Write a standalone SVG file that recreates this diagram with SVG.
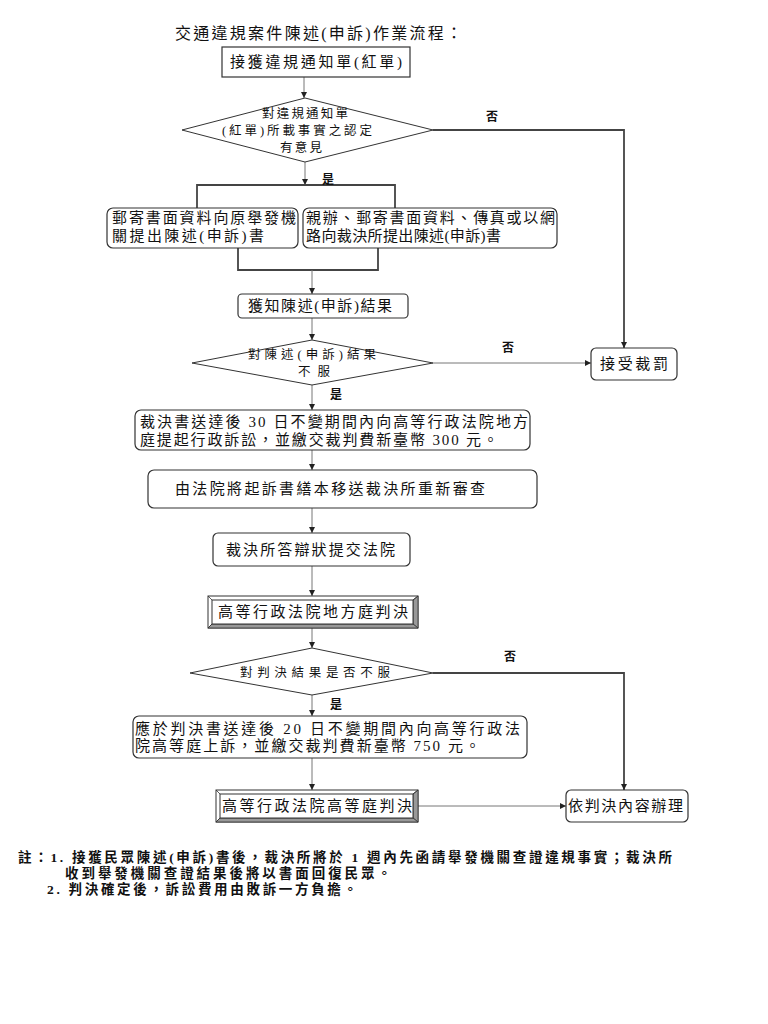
<svg xmlns="http://www.w3.org/2000/svg" width="768" height="1024" viewBox="0 0 768 1024">
<style>
text{font-family:"Liberation Serif","Noto Sans CJK TC",serif;fill:#111;}
.t{font-size:15px;}
.s{font-size:12.5px;}
.lb{font-size:12px;font-weight:bold;}
.box{fill:#fff;stroke:#333;stroke-width:1.2;}
.dia{fill:#fff;stroke:#333;stroke-width:1;}
.c{fill:none;stroke:#777;stroke-width:1;}
.cd{fill:none;stroke:#444;stroke-width:1.8;}
.bev{fill:#fff;stroke:#333;stroke-width:1;}
.bevs{fill:#999;stroke:#333;stroke-width:0.8;}
.note{font-size:13.5px;font-weight:bold;}
</style>
<defs>
<marker id="ah" markerWidth="7" markerHeight="7" refX="6" refY="3.5" orient="auto" markerUnits="userSpaceOnUse">
<path d="M0,0.5 L6,3.5 L0,6.5 Z" fill="#222"/>
</marker>
</defs>
<rect width="768" height="1024" fill="#fff"/>
<text id="title" x="175" y="39" style="font-size:16px" textLength="287" lengthAdjust="spacing">交通違規案件陳述(申訴)作業流程：</text>

<g id="connectors">
<line class="c" x1="304" y1="77" x2="304" y2="98" marker-end="url(#ah)"/>
<line class="c" x1="305" y1="162" x2="305" y2="185" marker-end="url(#ah)"/>
<polyline class="cd" points="197,209 197,185 395,185 395,209"/>
<polyline class="cd" points="238,248 238,270 378,270 378,248"/>
<line class="c" x1="312" y1="270" x2="312" y2="294" marker-end="url(#ah)"/>
<line class="c" x1="312" y1="318" x2="312" y2="340" marker-end="url(#ah)"/>
<line class="c" x1="433" y1="363" x2="591" y2="363" marker-end="url(#ah)"/>
<polyline class="cd" points="433,130 624,130 624,348" marker-end="url(#ah)"/>
<line class="c" x1="312" y1="385" x2="312" y2="410" marker-end="url(#ah)"/>
<line class="c" x1="312" y1="450" x2="312" y2="470" marker-end="url(#ah)"/>
<line class="c" x1="312" y1="508" x2="312" y2="533" marker-end="url(#ah)"/>
<line class="c" x1="312" y1="566" x2="312" y2="596" marker-end="url(#ah)"/>
<line class="c" x1="312" y1="628" x2="312" y2="648" marker-end="url(#ah)"/>
<line class="c" x1="312" y1="695" x2="312" y2="716" marker-end="url(#ah)"/>
<line class="c" x1="312" y1="758" x2="312" y2="790" marker-end="url(#ah)"/>
<line class="c" x1="418" y1="806" x2="566" y2="806" marker-end="url(#ah)"/>
<polyline class="cd" points="433,673 624,673 624,790" marker-end="url(#ah)"/>
<text class="lb" x="486" y="121">否</text>
<text class="lb" x="322" y="184">是</text>
<text class="lb" x="502" y="352">否</text>
<text class="lb" x="330" y="399">是</text>
<text class="lb" x="504" y="661">否</text>
<text class="lb" x="330" y="709">是</text>
</g>

<g id="n1">
<rect class="box" x="222" y="47" width="188" height="30"/>
<text class="t" x="230" y="67" textLength="172" lengthAdjust="spacing">接獲違規通知單(紅單)</text>
</g>

<g id="d1">
<polygon class="dia" points="182,130 305,98 433,130 305,162"/>
<text class="s" x="262" y="118" textLength="86" lengthAdjust="spacing">對違規通知單</text>
<text class="s" x="222" y="135" textLength="150" lengthAdjust="spacing">(紅單)所載事實之認定</text>
<text class="s" x="280" y="152" textLength="42" lengthAdjust="spacing">有意見</text>
</g>

<g id="n2">
<rect class="box" x="107" y="208" width="191" height="40" rx="6"/>
<text class="t" x="112" y="223" textLength="184" lengthAdjust="spacing">郵寄書面資料向原舉發機</text>
<text class="t" x="112" y="241" textLength="152" lengthAdjust="spacing">關提出陳述(申訴)書</text>
</g>

<g id="n3">
<rect class="box" x="303" y="208" width="254" height="40" rx="6"/>
<text class="t" x="306" y="223" textLength="249" lengthAdjust="spacing">親辦、郵寄書面資料、傳真或以網</text>
<text class="t" x="306" y="241" textLength="195" lengthAdjust="spacing">路向裁決所提出陳述(申訴)書</text>
</g>

<g id="n4">
<rect class="box" x="238" y="294" width="170" height="24" rx="4"/>
<text class="t" x="248" y="311" textLength="144" lengthAdjust="spacing">獲知陳述(申訴)結果</text>
</g>

<g id="d2">
<polygon class="dia" points="192,363 312,340 433,363 312,385"/>
<text class="s" x="248" y="359" textLength="128" lengthAdjust="spacing">對陳述(申訴)結果</text>
<text class="s" x="298" y="376" textLength="32" lengthAdjust="spacing">不服</text>
</g>

<g id="n5">
<rect class="box" x="591" y="348" width="86" height="32" rx="5"/>
<text class="t" x="600" y="369" textLength="68" lengthAdjust="spacing">接受裁罰</text>
</g>

<g id="n6">
<rect class="box" x="135" y="410" width="395" height="40" rx="6"/>
<text class="t" x="140" y="427" textLength="388" lengthAdjust="spacing">裁決書送達後 30 日不變期間內向高等行政法院地方</text>
<text class="t" x="140" y="445" textLength="358" lengthAdjust="spacing">庭提起行政訴訟，並繳交裁判費新臺幣 300 元。</text>
</g>

<g id="n7">
<rect class="box" x="148" y="470" width="389" height="38" rx="6"/>
<text class="t" x="175" y="494" textLength="310" lengthAdjust="spacing">由法院將起訴書繕本移送裁決所重新審查</text>
</g>

<g id="n8">
<rect class="box" x="213" y="533" width="197" height="33" rx="5"/>
<text class="t" x="226" y="555" textLength="169" lengthAdjust="spacing">裁決所答辯狀提交法院</text>
</g>

<g id="n9">
<rect class="bev" x="208" y="596" width="210" height="32"/>
<polygon class="bevs" points="418,596 418,628 413,624 413,600"/>
<polygon class="bevs" points="208,628 418,628 413,624 212,624"/>
<rect class="bev" x="212" y="600" width="201" height="24"/>
<line x1="208" y1="596" x2="212" y2="600" stroke="#333" stroke-width="0.8"/>
<line x1="418" y1="596" x2="413" y2="600" stroke="#333" stroke-width="0.8"/>
<line x1="208" y1="628" x2="212" y2="624" stroke="#333" stroke-width="0.8"/>
<text class="t" x="218" y="617" textLength="190" lengthAdjust="spacing">高等行政法院地方庭判決</text>
</g>

<g id="d3">
<polygon class="dia" points="190,673 312,648 433,673 312,695"/>
<text class="s" x="240" y="677" textLength="150" lengthAdjust="spacing">對判決結果是否不服</text>
</g>

<g id="n10">
<rect class="box" x="133" y="716" width="394" height="42" rx="6"/>
<text class="t" x="135" y="734" textLength="385" lengthAdjust="spacing">應於判決書送達後 20 日不變期間內向高等行政法</text>
<text class="t" x="135" y="751" textLength="345" lengthAdjust="spacing">院高等庭上訴，並繳交裁判費新臺幣 750 元。</text>
</g>

<g id="n11">
<rect class="bev" x="216" y="790" width="202" height="32"/>
<polygon class="bevs" points="418,790 418,822 413,818 413,794"/>
<polygon class="bevs" points="216,822 418,822 413,818 220,818"/>
<rect class="bev" x="220" y="794" width="193" height="24"/>
<line x1="216" y1="790" x2="220" y2="794" stroke="#333" stroke-width="0.8"/>
<line x1="418" y1="790" x2="413" y2="794" stroke="#333" stroke-width="0.8"/>
<line x1="216" y1="822" x2="220" y2="818" stroke="#333" stroke-width="0.8"/>
<text class="t" x="222" y="811" textLength="190" lengthAdjust="spacing">高等行政法院高等庭判決</text>
</g>

<g id="n12">
<rect class="box" x="566" y="790" width="122" height="32" rx="5"/>
<text class="t" x="568" y="811" textLength="115" lengthAdjust="spacing">依判決內容辦理</text>
</g>

<g id="note">
<text class="note" x="18" y="862" textLength="654" lengthAdjust="spacing">註：1. 接獲民眾陳述(申訴)書後，裁決所將於 1 週內先函請舉發機關查證違規事實；裁決所</text>
<text class="note" x="65" y="878" textLength="326" lengthAdjust="spacing">收到舉發機關查證結果後將以書面回復民眾。</text>
<text class="note" x="47" y="894" textLength="310" lengthAdjust="spacing">2. 判決確定後，訴訟費用由敗訴一方負擔。</text>
</g>
</svg>
